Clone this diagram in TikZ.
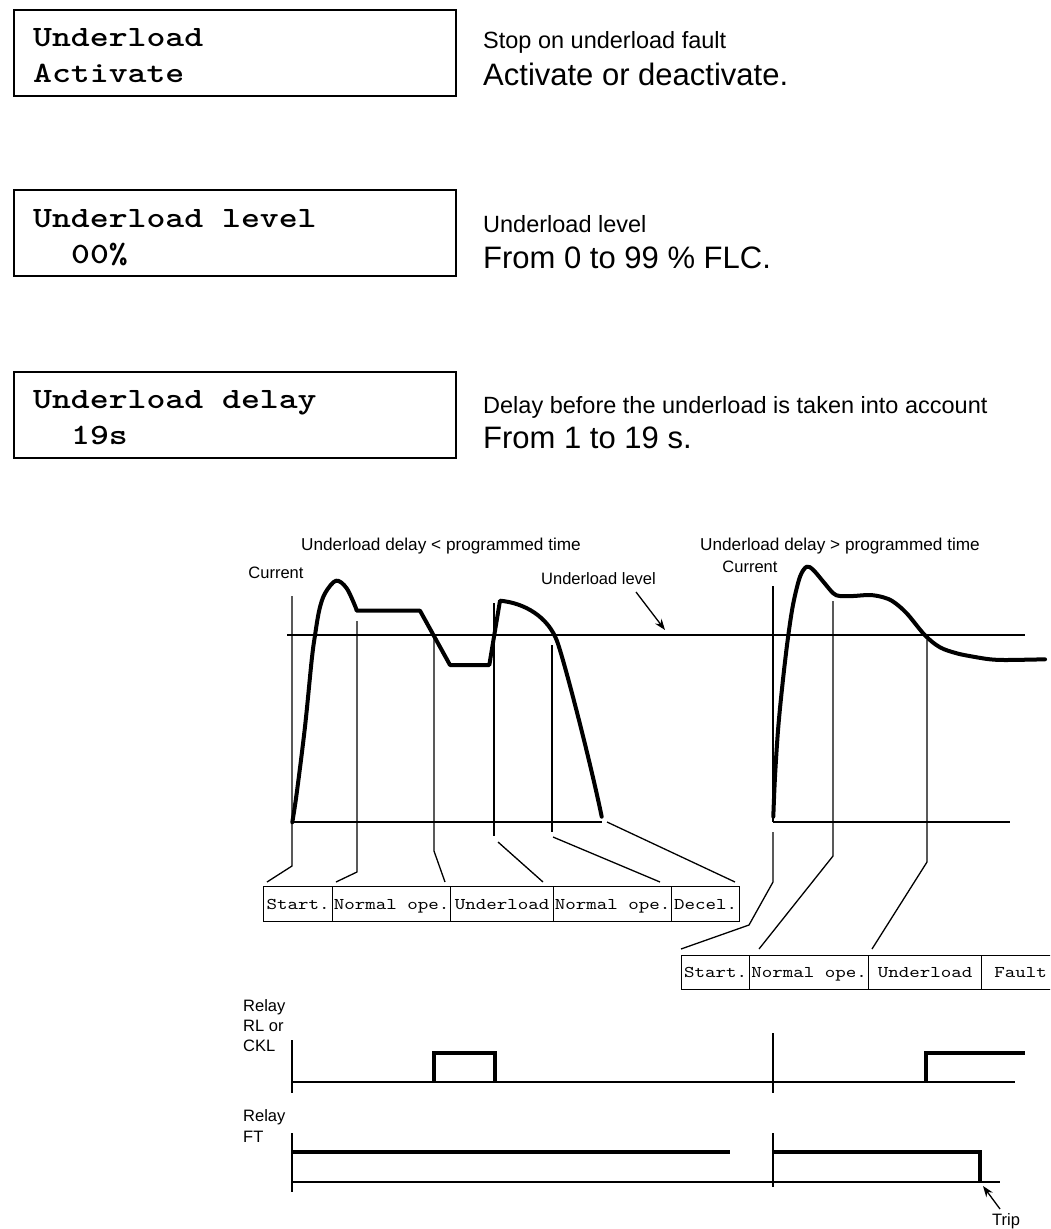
\documentclass[tikz,border=0pt]{standalone}
\usepackage{fontspec}
\setmainfont{Liberation Sans}
\newfontfamily\lcdfont{lmmonolt10-bold.otf}[FakeStretch=1.22]
\newfontfamily\phfont{lmmono10-regular.otf}[FakeStretch=1.22]
\usetikzlibrary{arrows.meta}
\begin{document}
\begin{tikzpicture}[x=1pt,y=-1pt,
  lcd/.style={draw, line width=2pt, minimum width=442pt, minimum height=86pt, anchor=north west, inner sep=0pt},
  lcdtxt/.style={anchor=base west, inner sep=0pt, font=\fontsize{29.5}{36}\selectfont\lcdfont},
  dsmall/.style={anchor=base west, inner sep=0pt, font=\fontsize{23.5}{28}\selectfont},
  dlarge/.style={anchor=base west, inner sep=0pt, font=\fontsize{31}{36}\selectfont},
  lbl/.style={inner sep=0pt, font=\fontsize{16.5}{20}\selectfont},
  ttl/.style={inner sep=0pt, font=\fontsize{17.2}{20}\selectfont},
  phase/.style={draw, line width=1.3pt, minimum height=35pt, inner sep=0pt, text height=12pt, text depth=2pt, anchor=north west, font=\fontsize{16.4}{20}\selectfont\phfont},
  thin/.style={line width=1.3pt},
  curve/.style={line width=4pt, line join=round, line cap=round},
  relay/.style={line width=4pt, line join=miter}
]
\useasboundingbox (0,0) rectangle (1050,1229);
\clip (0,0) rectangle (1050,1229);

% ---- parameter boxes ----
\node[lcd] (box1) at (13,9) {};
\node[lcdtxt] (b1a) at (33,46) {Underload};
\node[lcdtxt] (b1b) at (33,82) {Activate};
\node[dsmall] (d1a) at (483,48) {Stop on underload fault};
\node[dlarge] (d1b) at (483,85) {Activate or deactivate.};

\node[lcd] (box2) at (13,189) {};
\node[lcdtxt] (b2a) at (33,227) {Underload level};
\node[lcdtxt] (b2b) at (71,263) {00\%};
\node[dsmall] (d2a) at (483,232) {Underload level};
\node[dlarge] (d2b) at (483,268) {From 0 to 99 \% FLC.};

\node[lcd] (box3) at (13,371) {};
\node[lcdtxt] (b3a) at (33,408) {Underload delay};
\node[lcdtxt] (b3b) at (71,444) {19s};
\node[dsmall] (d3a) at (483,413) {Delay before the underload is taken into account};
\node[dlarge] (d3b) at (483,448) {From 1 to 19 s.};

% ---- chart labels ----
\node[ttl] (t1) at (441,546) {Underload delay < programmed time};
\node[ttl] (t2) at (840,546) {Underload delay > programmed time};
\node[lbl] (cur1) at (276,573) {Current};
\node[lbl] (cur2) at (750,567) {Current};
\node[lbl, anchor=west] (ull) at (541,579) {Underload level};
\coordinate (arrS) at (636,592);
\coordinate (arrE) at (665,630);
\draw[thin, -{Stealth[length=11pt,width=8pt]}] (arrS) -- (arrE);

% ---- axes / level ----
\draw[thin] (287,635) -- (1025,635);
\draw[thin] (292,822) -- (602,822);
\draw[thin] (773,822) -- (1010,822);

% ---- current curves ----
\draw[curve] plot[smooth, tension=0.55] coordinates {(292.3,822.3) (296.7,793.3) (305,726.7) (311.7,660) (315,635.3) (319.3,610) (325,593.3) (336,580.7) (346.7,588.3) (356,608.3)}
  -- (356.7,610.7) -- (420,610.7) -- (450,665) -- (489.3,665) -- (500,600.7)
  .. controls (525,603) and (548,617) .. (557,641)
  .. controls (564,660) and (590,760) .. (601.7,816.7);

\draw[curve] plot[smooth, tension=0.55] coordinates {(773.3,816.7) (775,776.7) (778.3,726.7) (783.3,676.7) (788.3,635.3) (793.3,603.3) (800,576.7) (806.7,566.7) (813.3,570) (823.3,581.7) (833.3,593.3) (840,596) (853.3,596) (870,595) (883.3,597.3) (893.3,601.7) (906.7,613.3) (925,635.3) (940,647.3) (956.7,653.3) (973.3,656.7) (990,659.3) (1006.7,660) (1045,659.3)};

% ---- phase boxes ----
\node[phase, minimum width=69pt] (p1) at (263,886) {Start.};
\node[phase, minimum width=118pt] (p2) at (332,886) {Normal ope.};
\node[phase, minimum width=103pt] (p3) at (450,886) {Underload};
\node[phase, minimum width=118pt] (p4) at (553,886) {Normal ope.};
\node[phase, minimum width=68pt] (p5) at (671,886) {Decel.};

\node[phase, minimum width=68pt, minimum height=34pt] (q1) at (681,955) {Start.};
\node[phase, minimum width=119pt, minimum height=34pt] (q2) at (749,955) {Normal ope.};
\node[phase, minimum width=113pt, minimum height=34pt] (q3) at (868,955) {Underload};
\node[phase, minimum width=78pt, minimum height=34pt] (q4) at (981,955) {Fault};

% ---- markers from chart to phase boxes ----
\draw[thin] (292,596) -- (292,866) -- (267,882);
\draw[thin] (357,621) -- (357,872) -- (336,882);
\draw[thin] (434,639) -- (434,851) -- (445,882);
\draw[thin] (494,603) -- (494,836);
\draw[thin] (498,842) -- (543,882);
\draw[thin] (552,645) -- (552,832);
\draw[thin] (553,837) -- (660,882);
\draw[thin] (607,822) -- (735,882);

\draw[thin] (773,586) -- (773,822);
\draw[thin] (773,832) -- (773,882) -- (749,925) -- (681,949);
\draw[thin] (833,601) -- (833,856) -- (759,949);
\draw[thin] (927,640) -- (927,862) -- (872,949);

% ---- relays ----
\node[lbl, anchor=base west] (r1a) at (243,1011) {Relay};
\node[lbl, anchor=base west] (r1b) at (243,1031) {RL or};
\node[lbl, anchor=base west] (r1c) at (243,1051) {CKL};
\node[lbl, anchor=base west] (r2a) at (243,1121) {Relay};
\node[lbl, anchor=base west] (r2b) at (243,1142) {FT};

\draw[thin] (292,1040) -- (292,1093);
\draw[thin] (292,1082) -- (1015,1082);
\draw[thin] (773,1033) -- (773,1093);
\draw[relay] (434,1082) -- (434,1053) -- (495,1053) -- (495,1082);
\draw[relay] (926,1082) -- (926,1053) -- (1025,1053);

\draw[thin] (292,1133) -- (292,1192);
\draw[thin] (292,1182) -- (1000,1182);
\draw[thin] (773,1133) -- (773,1187);
\draw[relay] (292,1152) -- (730,1152);
\draw[relay] (773,1152) -- (980,1152) -- (980,1182);

\coordinate (tripS) at (1000,1209);
\coordinate (tripE) at (983,1186);
\draw[thin, -{Stealth[length=11pt,width=8pt]}] (tripS) -- (tripE);
\node[lbl, anchor=base west] (trip) at (992,1225) {Trip};
\end{tikzpicture}
\end{document}
